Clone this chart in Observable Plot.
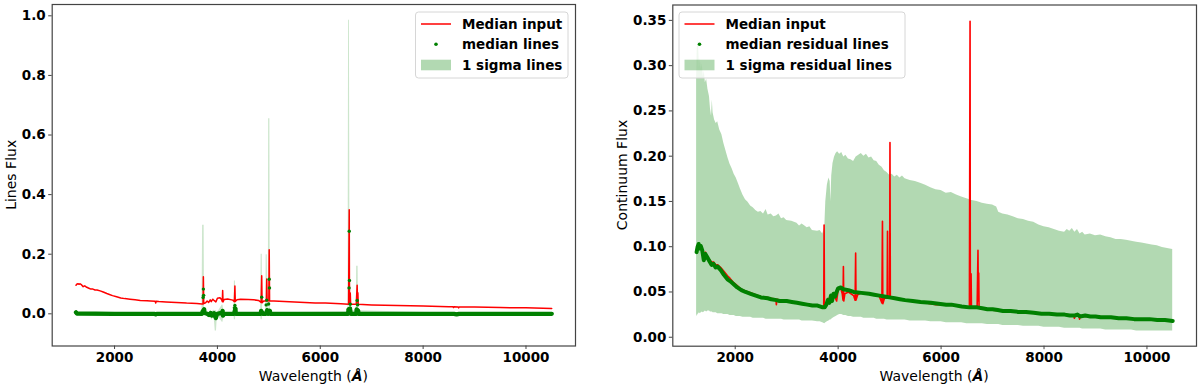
<!DOCTYPE html>
<html><head><meta charset="utf-8">
<script src="https://cdn.jsdelivr.net/npm/d3@7"></script>
<script src="https://cdn.jsdelivr.net/npm/@observablehq/plot@0.6"></script>
<style>
body{margin:0;background:#fff;}
#wrap{position:relative;width:1200px;height:389px;display:flex;}
#wrap svg.plot{display:block;}
#overlay{position:absolute;left:0;top:0;pointer-events:none;}
</style>
</head><body>
<div id="wrap"></div>
<script>
// ---------- data ----------
const xTicks = [2000, 4000, 6000, 8000, 10000];
const linesTicks = [0, 0.2, 0.4, 0.6, 0.8, 1.0];
const contTicks = [0, 0.05, 0.10, 0.15, 0.20, 0.25, 0.30, 0.35];

// Median input spectrum (red), both panels
const inputWave = [1250,1270,1290,1310,1330,1360,1390,1420,1460,1500,1540,1580,1620,1660,1720,1780,1850,1900,1960,2040,2120,2200,2300,2400,2500,2630,2700,2790,2800,2810,2860,3000,3200,3400,3600,3700,3720,3727,3734,3770,3800,3830,3860,3880,3910,3940,3970,4000,4050,4080,4095,4102,4109,4130,4200,4300,4330,4340,4347,4380,4450,4600,4700,4800,4850,4861,4868,4900,4952,4959,4966,5000,5007,5014,5100,5300,5600,5900,6100,6400,6550,6563,6568,6578,6583,6590,6700,6717,6724,6731,6738,7000,7500,8000,8500,8580,8590,8600,8680,8690,8700,9000,9500,10000,10500];
const inputFlux = [0.096,0.100,0.101,0.099,0.101,0.097,0.091,0.094,0.089,0.086,0.083,0.083,0.080,0.080,0.077,0.073,0.068,0.065,0.061,0.057,0.053,0.051,0.049,0.047,0.045,0.044,0.043,0.042,0.036,0.042,0.041,0.040,0.038,0.036,0.035,0.033,0.033,0.124,0.034,0.037,0.043,0.038,0.047,0.041,0.049,0.044,0.040,0.052,0.054,0.048,0.041,0.078,0.040,0.048,0.050,0.046,0.041,0.093,0.041,0.047,0.049,0.048,0.047,0.045,0.038,0.128,0.037,0.043,0.043,0.117,0.043,0.044,0.215,0.043,0.043,0.041,0.039,0.036,0.036,0.034,0.032,0.349,0.034,0.033,0.070,0.032,0.032,0.096,0.040,0.071,0.032,0.030,0.028,0.026,0.024,0.024,0.021,0.024,0.023,0.020,0.023,0.023,0.021,0.020,0.018];

// Left panel: median lines and 1 sigma band
const linesWave =   [1250,1270,2000,2780,2800,2820,3700,3712,3722,3727,3732,3742,3750,3800,3835,3870,3889,3935,3958,3970,3982,4000,4094,4101,4108,4130,4322,4330,4340,4350,4358,4840,4850,4861,4872,4880,4940,4948,4959,4968,4990,4996,5007,5012,5020,5028,6540,6550,6560,6563,6567,6578,6583,6590,6598,6700,6707,6717,6726,6736,6745,8600,8650,8700,10500];
const linesMedian = [0.005,0.001,0.000,0.000,-0.002,0.000,0.000,0.008,0.055,0.083,0.062,0.015,0.003,0.000,-0.004,0.003,-0.006,0.002,-0.010,-0.014,-0.006,0.000,0.004,0.010,-0.006,0.000,0.000,0.020,0.028,0.018,0.000,0.000,0.010,0.056,0.004,0.000,0.000,0.030,0.046,0.012,0.000,0.033,0.116,0.087,0.010,0.000,0.000,0.015,0.087,0.277,0.112,0.018,0.032,0.003,0.000,0.000,0.015,0.045,0.030,0.010,0.000,0.000,-0.002,0.000,0.000];
const linesLow =    [-0.002,-0.002,-0.002,-0.002,-0.006,-0.002,-0.002,-0.002,0.010,0.020,0.010,0.000,-0.004,-0.003,-0.012,-0.010,-0.022,-0.008,-0.058,-0.058,-0.058,-0.004,-0.028,-0.028,-0.028,-0.003,-0.004,-0.020,-0.020,-0.020,-0.004,-0.004,-0.020,-0.020,-0.020,-0.004,-0.003,0.000,0.000,0.000,-0.003,0.005,0.030,0.020,0.000,-0.003,-0.004,0.000,0.030,0.060,0.040,0.000,0.005,-0.003,-0.003,-0.003,0.000,0.005,0.000,0.000,-0.003,-0.002,-0.006,-0.002,-0.002];
const linesHigh =   [0.008,0.003,0.002,0.002,0.002,0.002,0.003,0.297,0.297,0.297,0.297,0.297,0.008,0.004,0.004,0.012,0.006,0.012,0.010,0.010,0.010,0.004,0.030,0.030,0.030,0.003,0.004,0.110,0.110,0.110,0.004,0.004,0.200,0.200,0.200,0.004,0.004,0.198,0.198,0.198,0.004,0.655,0.655,0.655,0.655,0.004,0.006,0.985,0.985,0.985,0.985,0.100,0.100,0.100,0.010,0.010,0.160,0.160,0.160,0.160,0.010,0.002,0.002,0.002,0.002];

// Right panel: median residual lines
const residWave = [1250,1270,1290,1310,1330,1360,1390,1420,1460,1500,1540,1580,1620,1660,1720,1780,1850,1900,1960,2040,2120,2200,2300,2400,2500,2630,2700,2800,2860,3000,3100,3200,3300,3400,3500,3600,3700,3740,3770,3800,3830,3860,3880,3910,3940,3970,4000,4050,4100,4200,4300,4450,4600,4700,4800,4900,5000,5100,5200,5300,5450,5600,5800,5950,6100,6200,6400,6550,6700,6800,6900,7000,7100,7200,7350,7500,7650,7800,7950,8100,8250,8400,8500,8600,8650,8700,8800,8900,9000,9100,9200,9300,9450,9600,9750,9900,10050,10200,10350,10500];
const residMedian = [0.094,0.100,0.103,0.098,0.101,0.096,0.085,0.092,0.088,0.084,0.080,0.081,0.077,0.078,0.074,0.069,0.064,0.062,0.059,0.055,0.052,0.050,0.048,0.046,0.044,0.043,0.042,0.041,0.040,0.040,0.039,0.038,0.037,0.036,0.035,0.035,0.033,0.033,0.036,0.041,0.038,0.046,0.040,0.048,0.045,0.050,0.054,0.055,0.053,0.052,0.050,0.049,0.048,0.047,0.046,0.045,0.044,0.043,0.042,0.041,0.040,0.039,0.038,0.037,0.036,0.036,0.034,0.033,0.033,0.032,0.031,0.031,0.030,0.029,0.029,0.028,0.028,0.027,0.026,0.026,0.025,0.025,0.024,0.024,0.025,0.023,0.024,0.023,0.023,0.022,0.022,0.022,0.021,0.021,0.020,0.020,0.020,0.019,0.019,0.018];

// Right panel: 1 sigma residual band
const bandWave = [1250,1262,1275,1290,1305,1320,1340,1360,1380,1400,1420,1445,1470,1500,1520,1540,1555,1570,1600,1630,1660,1700,1740,1780,1820,1860,1900,1940,1980,2020,2060,2100,2150,2200,2250,2300,2350,2400,2450,2500,2550,2600,2640,2700,2750,2800,2850,2900,2950,3000,3100,3200,3250,3300,3400,3450,3500,3600,3650,3700,3740,3760,3790,3820,3845,3860,3875,3900,3930,3960,3990,4030,4070,4110,4150,4200,4250,4300,4350,4400,4450,4500,4550,4600,4650,4700,4750,4800,4850,4900,4950,5000,5050,5100,5150,5200,5250,5300,5400,5500,5600,5700,5800,5900,6000,6100,6200,6300,6400,6500,6600,6700,6800,6900,7000,7080,7120,7200,7300,7400,7500,7600,7700,7800,7900,8000,8100,8200,8300,8400,8450,8500,8550,8600,8650,8700,8750,8800,8900,9000,9100,9200,9300,9400,9500,9600,9700,9800,9900,10000,10100,10200,10300,10400,10500];
const bandHigh = [0.285,0.318,0.328,0.320,0.298,0.308,0.296,0.302,0.288,0.294,0.281,0.285,0.274,0.266,0.252,0.244,0.262,0.248,0.240,0.236,0.238,0.229,0.224,0.214,0.206,0.198,0.191,0.186,0.180,0.176,0.170,0.164,0.157,0.152,0.149,0.145,0.143,0.140,0.138,0.139,0.136,0.141,0.135,0.136,0.133,0.134,0.136,0.131,0.132,0.129,0.128,0.126,0.123,0.125,0.121,0.122,0.118,0.117,0.118,0.114,0.121,0.150,0.168,0.176,0.172,0.150,0.178,0.192,0.199,0.203,0.205,0.202,0.204,0.199,0.201,0.197,0.196,0.194,0.199,0.201,0.203,0.200,0.202,0.198,0.199,0.195,0.194,0.190,0.188,0.184,0.182,0.179,0.180,0.177,0.179,0.176,0.178,0.175,0.173,0.172,0.170,0.168,0.165,0.163,0.162,0.159,0.160,0.157,0.155,0.153,0.151,0.150,0.148,0.147,0.146,0.144,0.138,0.136,0.135,0.133,0.131,0.130,0.128,0.127,0.124,0.122,0.121,0.119,0.117,0.116,0.119,0.117,0.120,0.116,0.119,0.114,0.116,0.113,0.114,0.112,0.113,0.111,0.110,0.108,0.108,0.107,0.106,0.105,0.104,0.103,0.102,0.101,0.099,0.098,0.097];
const bandLow = [0.025,0.023,0.025,0.026,0.027,0.026,0.027,0.028,0.027,0.028,0.029,0.028,0.029,0.029,0.028,0.028,0.028,0.027,0.027,0.027,0.026,0.026,0.026,0.025,0.025,0.025,0.024,0.024,0.024,0.023,0.023,0.023,0.022,0.022,0.022,0.022,0.021,0.021,0.021,0.021,0.021,0.020,0.020,0.020,0.020,0.020,0.020,0.020,0.019,0.019,0.019,0.019,0.019,0.018,0.018,0.018,0.018,0.017,0.017,0.016,0.015,0.016,0.017,0.018,0.019,0.019,0.020,0.021,0.022,0.023,0.024,0.025,0.025,0.024,0.024,0.023,0.023,0.022,0.022,0.022,0.022,0.021,0.021,0.021,0.021,0.021,0.020,0.020,0.020,0.020,0.019,0.019,0.019,0.019,0.019,0.019,0.019,0.019,0.018,0.018,0.018,0.018,0.017,0.017,0.017,0.016,0.016,0.016,0.016,0.015,0.015,0.015,0.015,0.014,0.014,0.014,0.014,0.013,0.013,0.013,0.013,0.012,0.012,0.012,0.012,0.011,0.011,0.011,0.011,0.010,0.010,0.010,0.010,0.010,0.010,0.010,0.009,0.009,0.009,0.009,0.009,0.008,0.008,0.008,0.008,0.008,0.008,0.007,0.007,0.007,0.007,0.007,0.007,0.007,0.007];

// ---------- tables ----------
const inputData = inputWave.map((w, i) => ({w, f: inputFlux[i]}));
const linesData = linesWave.map((w, i) => ({w, m: linesMedian[i], lo: linesLow[i], hi: linesHigh[i]}));
const residData = residWave.map((w, i) => ({w, m: residMedian[i]}));
const bandData = bandWave.map((w, i) => ({w, lo: bandLow[i], hi: bandHigh[i]}));

const FONT = "'DejaVu Sans', sans-serif";
const AX = "#444";

function panel({yDomain, yTicks, yFormat, marginLeft, marginRight, marginTop, marginBottom, marks}) {
  return Plot.plot({
    width: 600, height: 389,
    marginLeft, marginRight, marginTop, marginBottom,
    x: {domain: [787.5, 10962.5]},
    y: {domain: yDomain},
    style: {fontFamily: FONT, fontSize: "13.5px", fontWeight: "bold", color: "#000", background: "transparent"},
    marks: [
      ...marks,
      Plot.axisX({ticks: xTicks, tickFormat: d => String(d), tickSize: 3.5, tickPadding: 3, label: null, stroke: AX, fill: "#000"}),
      Plot.axisY({ticks: yTicks, tickFormat: yFormat, tickSize: 3.5, tickPadding: 3, label: null, stroke: AX, fill: "#000"}),
      Plot.frame({stroke: AX, strokeWidth: 1.2})
    ]
  });
}

const left = panel({
  yDomain: [-0.108, 1.038], yTicks: linesTicks, yFormat: d3.format(".1f"),
  marginLeft: 51.7, marginRight: 25, marginTop: 4, marginBottom: 43.5,
  marks: [
    Plot.areaY(linesData, {x: "w", y1: "lo", y2: "hi", fill: "green", fillOpacity: 0.2, curve: "linear"}),
    Plot.line(inputData, {x: "w", y: "f", stroke: "red", strokeWidth: 1.5, curve: "linear"}),
    Plot.line(linesData.filter(d => Math.abs(d.m) < 0.02), {x: "w", y: "m", stroke: "green", strokeWidth: 4.3, curve: "linear"}),
    Plot.dot(linesData, {x: "w", y: "m", r: 1.7, fill: "green", stroke: "none"})
  ]
});

const right = panel({
  yDomain: [-0.0099, 0.367], yTicks: contTicks, yFormat: d3.format(".2f"),
  marginLeft: 72.3, marginRight: 4, marginTop: 4.5, marginBottom: 43.3,
  marks: [
    Plot.areaY(bandData, {x: "w", y1: "lo", y2: "hi", fill: "green", fillOpacity: 0.3, curve: "linear"}),
    Plot.line(inputData, {x: "w", y: "f", stroke: "red", strokeWidth: 1.6, curve: "linear"}),
    Plot.line(residData, {x: "w", y: "m", stroke: "green", strokeWidth: 4, curve: "linear"})
  ]
});

left.classList.add("plot"); right.classList.add("plot");
const wrap = document.getElementById("wrap");
wrap.appendChild(left);
wrap.appendChild(right);

// ---------- labels & legends overlay ----------
const ov = d3.select(wrap).append("svg").attr("id", "overlay")
  .attr("width", 1200).attr("height", 389)
  .style("font-family", FONT);

function xlabel(cx) {
  const t = ov.append("text").attr("x", cx).attr("y", 376).attr("text-anchor", "middle")
    .attr("dominant-baseline", "central").attr("font-size", 14).attr("fill", "#000");
  t.append("tspan").text("Wavelength (");
  t.append("tspan").attr("font-weight", "bold").attr("font-style", "italic").text("Å");
  t.append("tspan").text(")");
}
xlabel(313.4);
xlabel(934.2);

function ylabel(cx, cy, txt) {
  ov.append("text").attr("transform", `translate(${cx},${cy}) rotate(-90)`)
    .attr("text-anchor", "middle").attr("dominant-baseline", "central")
    .attr("font-size", 14).attr("fill", "#000").text(txt);
}
ylabel(10.5, 174.8, "Lines Flux");
ylabel(622, 175, "Continuum Flux");

function legend(x0, width, labels) {
  const g = ov.append("g");
  g.append("rect").attr("x", x0).attr("y", 12).attr("width", width).attr("height", 66).attr("rx", 3)
    .attr("fill", "#fff").attr("fill-opacity", 0.8).attr("stroke", "#d6d6d6").attr("stroke-width", 1);
  const hx = x0 + 5.5, tx = x0 + 46.5;
  const rows = [24, 44.3, 65];
  g.append("line").attr("x1", hx).attr("x2", hx + 30).attr("y1", rows[0]).attr("y2", rows[0])
    .attr("stroke", "red").attr("stroke-width", 1.5);
  g.append("circle").attr("cx", hx + 15).attr("cy", rows[1]).attr("r", 1.8).attr("fill", "green");
  g.append("rect").attr("x", hx).attr("y", rows[2] - 5.3).attr("width", 30).attr("height", 10.6)
    .attr("fill", "green").attr("fill-opacity", 0.3);
  labels.forEach((s, i) => {
    g.append("text").attr("x", tx).attr("y", rows[i]).attr("dominant-baseline", "central")
      .attr("font-size", 13.5).attr("font-weight", "bold").attr("fill", "#000").text(s);
  });
}
legend(415.5, 152.5, ["Median input", "median lines", "1 sigma lines"]);
legend(679, 226, ["Median input", "median residual lines", "1 sigma residual lines"]);
</script>
</body></html>
